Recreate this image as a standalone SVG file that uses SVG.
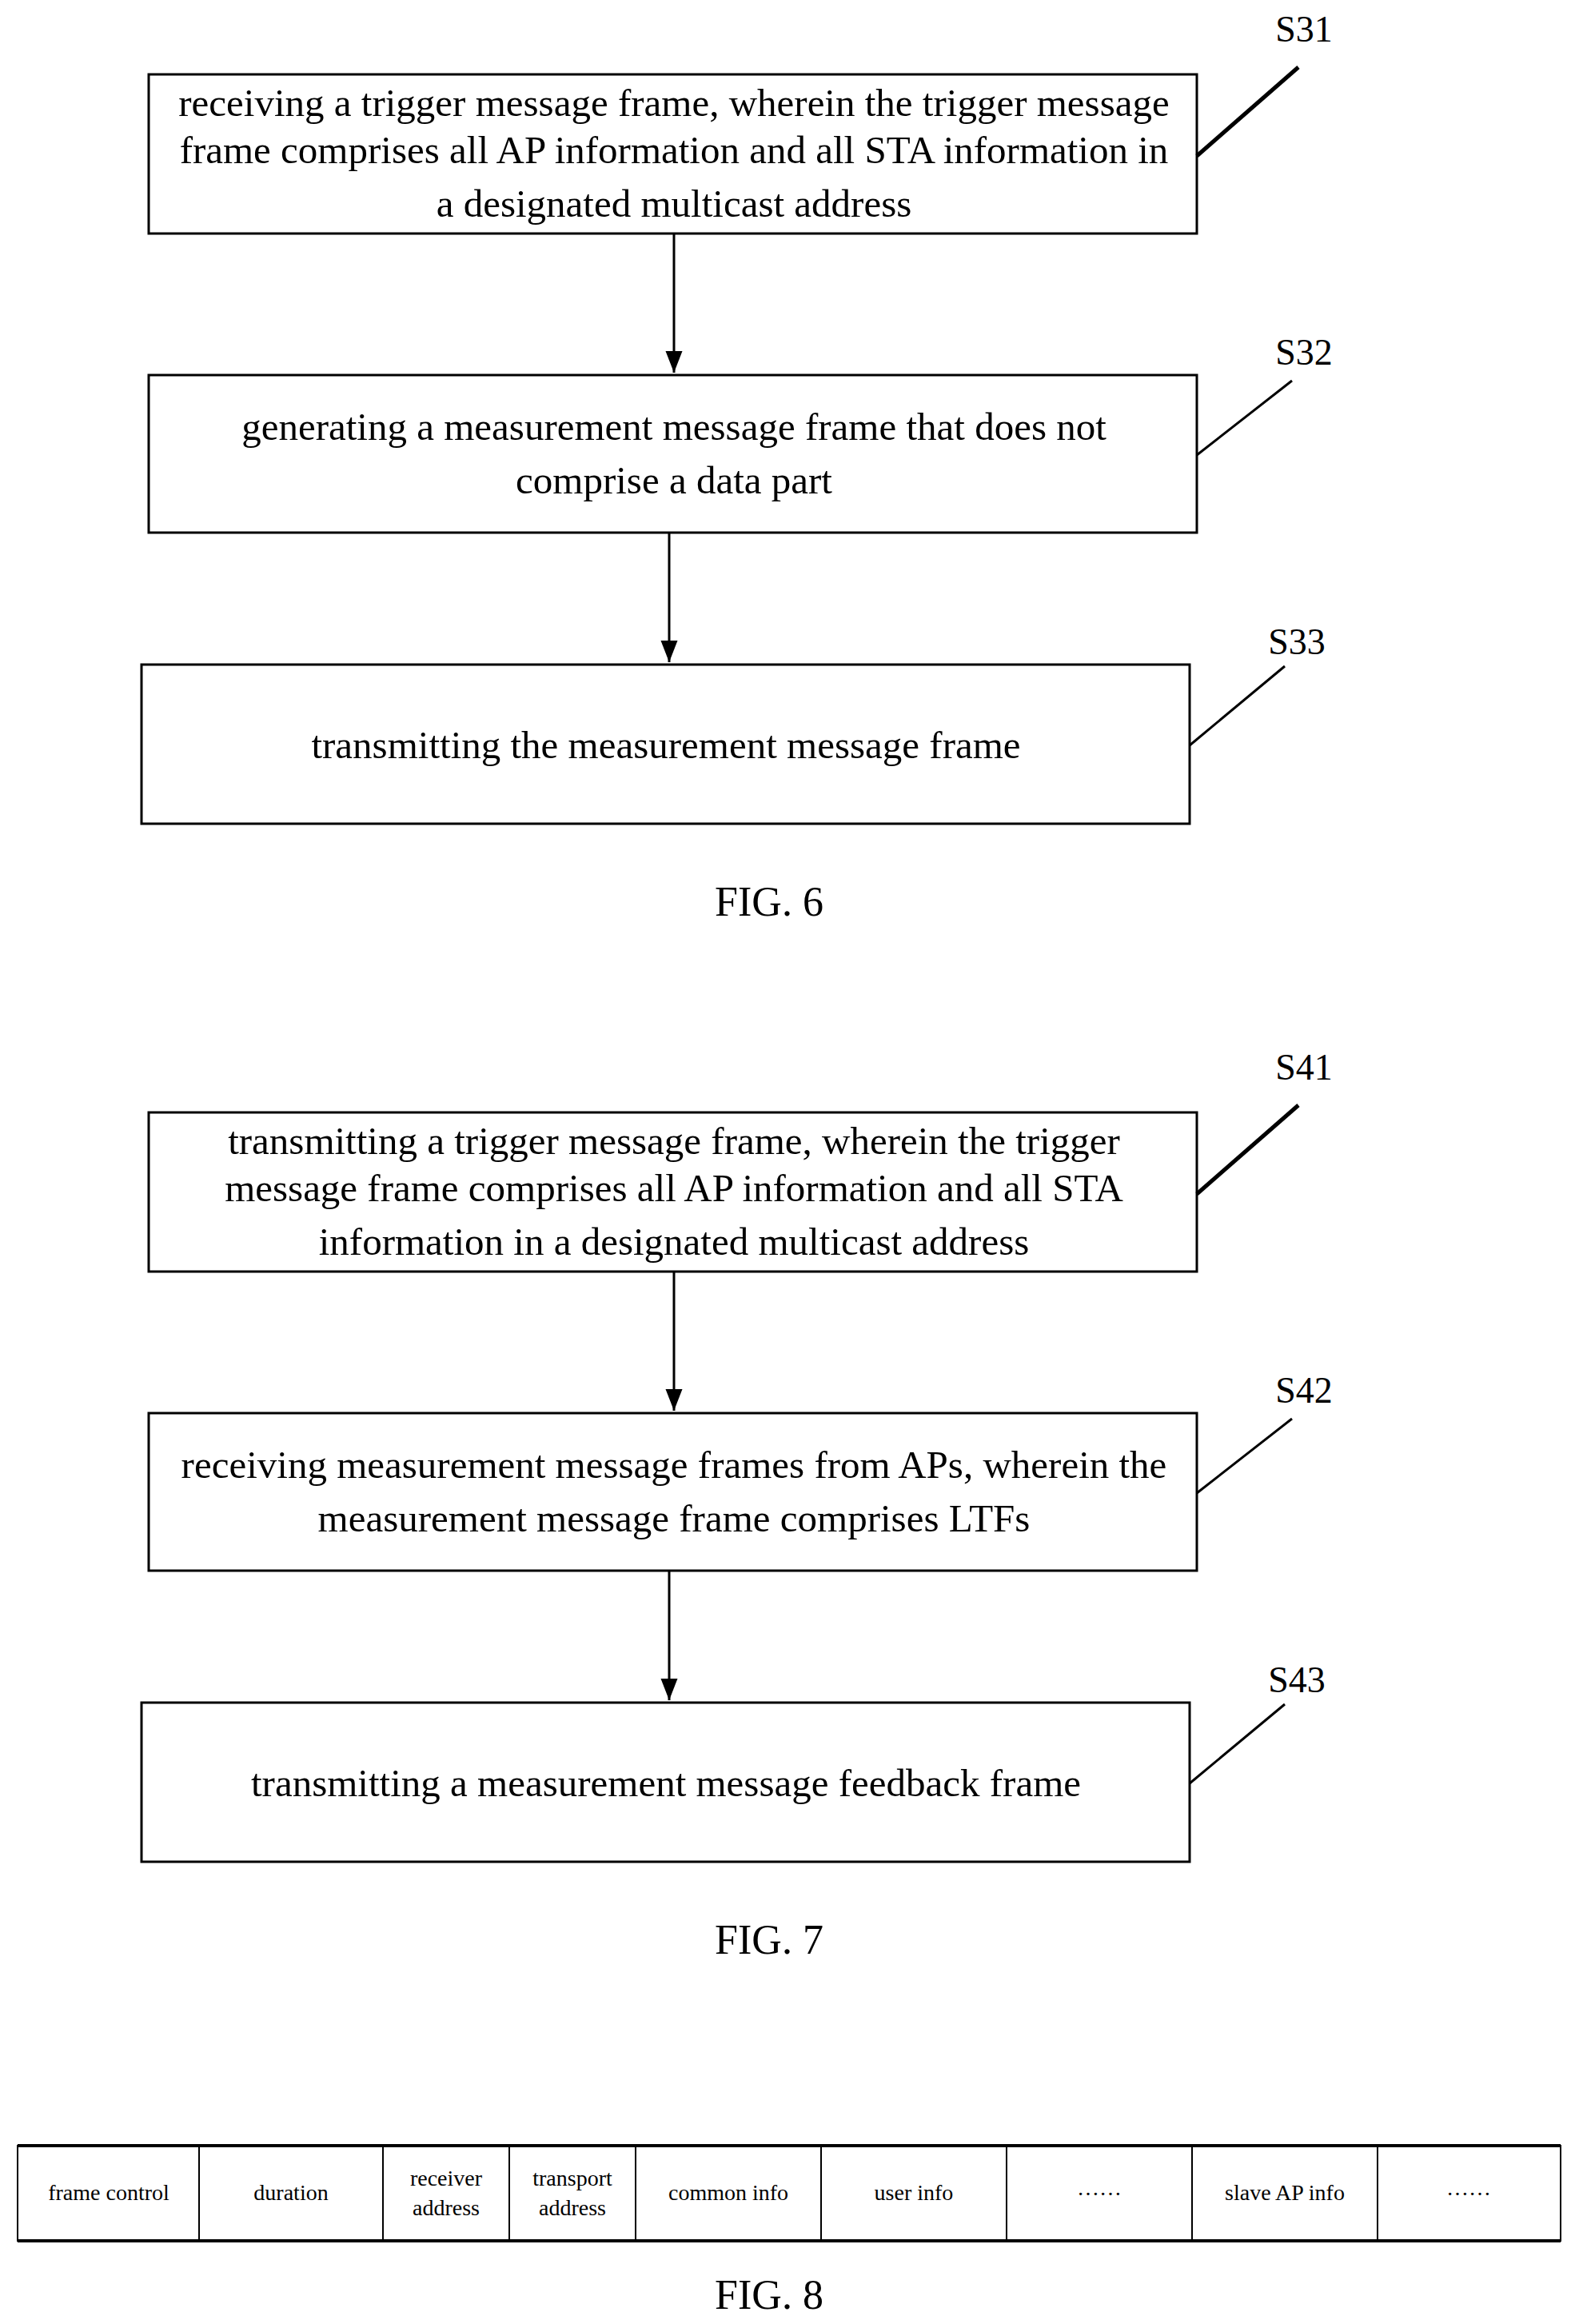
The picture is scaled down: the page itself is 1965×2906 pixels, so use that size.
<svg xmlns="http://www.w3.org/2000/svg" width="1965" height="2906" viewBox="0 0 1965 2906">
<style>
text{font-family:"Liberation Serif","Times New Roman",serif;fill:#000;text-anchor:middle}
.t{font-size:49px}.l{font-size:46px}.f{font-size:52px}.c{font-size:28px}
.b{fill:#fff;stroke:#000;stroke-width:3}
.ln{stroke:#000;stroke-width:3;fill:none}
.lk{stroke:#000;stroke-width:5;fill:none}
</style>
<defs><marker id="a" markerWidth="10" markerHeight="10" refX="9" refY="5" orient="auto" markerUnits="strokeWidth"><path d="M0,1.5 L9,5 L0,8.5z" fill="#000"/></marker></defs>
<rect width="1965" height="2906" fill="#fff"/>
<g id="s31"><rect class="b" x="186" y="93" width="1311" height="199"/>
<text class="t" x="843" y="145">receiving a trigger message frame, wherein the trigger message</text>
<text class="t" x="843" y="204">frame comprises all AP information and all STA information in</text>
<text class="t" x="843" y="271">a designated multicast address</text>
<text class="l" x="1631" y="52">S31</text><line class="lk" x1="1497" y1="195" x2="1624" y2="84"/></g>
<g id="s32"><rect class="b" x="186" y="469" width="1311" height="197"/>
<text class="t" x="843" y="550">generating a measurement message frame that does not</text>
<text class="t" x="843" y="617">comprise a data part</text>
<text class="l" x="1631" y="456">S32</text><line class="ln" x1="1497" y1="569" x2="1616" y2="476"/></g>
<g id="s33"><rect class="b" x="177" y="831" width="1311" height="199"/>
<text class="t" x="833" y="948">transmitting the measurement message frame</text>
<text class="l" x="1622" y="818">S33</text><line class="ln" x1="1488" y1="932" x2="1607" y2="833"/></g>
<text class="f" x="962" y="1145">FIG. 6</text>
<g id="s41"><rect class="b" x="186" y="1391" width="1311" height="199"/>
<text class="t" x="843" y="1443">transmitting a trigger message frame, wherein the trigger</text>
<text class="t" x="843" y="1502">message frame comprises all AP information and all STA</text>
<text class="t" x="843" y="1569">information in a designated multicast address</text>
<text class="l" x="1631" y="1350">S41</text><line class="lk" x1="1497" y1="1493" x2="1624" y2="1382"/></g>
<g id="s42"><rect class="b" x="186" y="1767" width="1311" height="197"/>
<text class="t" x="843" y="1848">receiving measurement message frames from APs, wherein the</text>
<text class="t" x="843" y="1915">measurement message frame comprises LTFs</text>
<text class="l" x="1631" y="1754">S42</text><line class="ln" x1="1497" y1="1867" x2="1616" y2="1774"/></g>
<g id="s43"><rect class="b" x="177" y="2129" width="1311" height="199"/>
<text class="t" x="833" y="2246">transmitting a measurement message feedback frame</text>
<text class="l" x="1622" y="2116">S43</text><line class="ln" x1="1488" y1="2230" x2="1607" y2="2131"/></g>
<text class="f" x="962" y="2443">FIG. 7</text>
<g id="connectors">
<line class="ln" x1="843" y1="292" x2="843" y2="466" marker-end="url(#a)"/>
<line class="ln" x1="837" y1="666" x2="837" y2="828" marker-end="url(#a)"/>
<line class="ln" x1="843" y1="1590" x2="843" y2="1764" marker-end="url(#a)"/>
<line class="ln" x1="837" y1="1964" x2="837" y2="2126" marker-end="url(#a)"/>
</g>
<g id="frame">
<rect x="22" y="2683" width="1930" height="119" fill="#fff" stroke="#000" stroke-width="2"/>
<line x1="22" y1="2683" x2="1952" y2="2683" stroke="#000" stroke-width="4"/>
<line x1="22" y1="2802" x2="1952" y2="2802" stroke="#000" stroke-width="4"/>
<g stroke="#000" stroke-width="2">
<line x1="249" y1="2683" x2="249" y2="2802"/><line x1="479" y1="2683" x2="479" y2="2802"/>
<line x1="637" y1="2683" x2="637" y2="2802"/><line x1="795" y1="2683" x2="795" y2="2802"/>
<line x1="1027" y1="2683" x2="1027" y2="2802"/><line x1="1259" y1="2683" x2="1259" y2="2802"/>
<line x1="1491" y1="2683" x2="1491" y2="2802"/><line x1="1723" y1="2683" x2="1723" y2="2802"/>
</g>
<text class="c" x="136" y="2751">frame control</text>
<text class="c" x="364" y="2751">duration</text>
<text class="c" x="558" y="2733">receiver</text><text class="c" x="558" y="2770">address</text>
<text class="c" x="716" y="2733">transport</text><text class="c" x="716" y="2770">address</text>
<text class="c" x="911" y="2751">common info</text>
<text class="c" x="1143" y="2751">user info</text>
<text class="c" x="1375" y="2745">……</text>
<text class="c" x="1607" y="2751">slave AP info</text>
<text class="c" x="1837" y="2745">……</text>
</g>
<text class="f" x="962" y="2887">FIG. 8</text>
</svg>
